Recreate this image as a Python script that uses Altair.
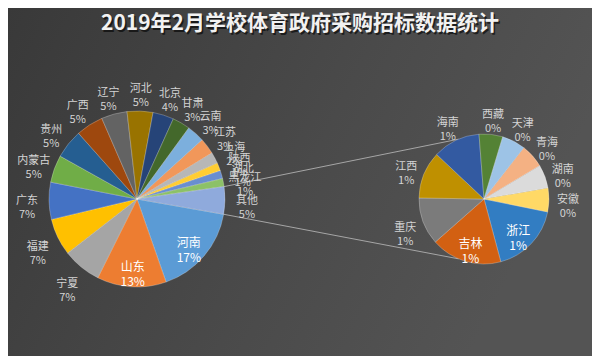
import math
import altair as alt
import pandas as pd

# ---------------- data ----------------
TITLE = "2019年2月学校体育政府采购招标数据统计"

main_names = ["河南", "山东", "宁夏", "福建", "广东", "内蒙古", "贵州", "广西", "辽宁",
              "河北", "北京", "甘肃", "云南", "江苏", "上海", "陕西", "湖北", "黑龙江"]
main_counts = [57, 43, 24, 23, 23, 17, 18, 17, 16, 16, 13, 11, 11, 10, 7, 5, 5, 5]
other_name = "其他"

sec_names = ["浙江", "吉林", "重庆", "江西", "海南", "西藏", "天津", "青海", "湖南", "安徽"]
sec_counts = [3, 3, 2, 2, 2, 1, 1, 1, 1, 1]

# ---------------- styles ----------------
main_colors = ["#5B9BD5", "#ED7D31", "#A5A5A5", "#FFC000", "#4472C4", "#70AD47",
               "#255E91", "#9E480E", "#636363", "#997300", "#264478", "#43682B",
               "#7CAFDD", "#F1975A", "#B7B7B7", "#FFCD33", "#698ED0", "#8CC168",
               "#8FAADC"]
sec_colors = ["#327DC2", "#D26012", "#7B7B7B", "#BF9000", "#335AA1", "#548235",
              "#9DC3E6", "#F4B183", "#DBDBDB", "#FFD966"]
inside_main = ["河南", "山东"]
inside_sec = ["浙江", "吉林"]

FONT = "Noto Sans CJK SC"
W, H = 584, 348
MAIN_CX, MAIN_CY, MAIN_R = 129, 191, 88
SEC_CX, SEC_CY, SEC_R = 476, 191, 65
MAIN_START = 100.0   # degrees, clockwise from 12 o'clock
SEC_START = 101.5

total = sum(main_counts) + sum(sec_counts)


def make_df(names, counts):
    df = pd.DataFrame({"name": names, "v": counts, "idx": list(range(len(names)))})
    df["label"] = [f"{n}\n{round(100 * c / total)}%" for n, c in zip(names, counts)]
    return df


main_df = make_df(main_names + [other_name], main_counts + [sum(sec_counts)])
sec_df = make_df(sec_names, sec_counts)
main_df["lab_in"] = [l if n in inside_main else "" for n, l in zip(main_df.name, main_df.label)]
main_df["lab_out"] = [l if n not in inside_main else "" for n, l in zip(main_df.name, main_df.label)]
sec_df["lab_in"] = [l if n in inside_sec else "" for n, l in zip(sec_df.name, sec_df.label)]
sec_df["lab_out"] = [l if n not in inside_sec else "" for n, l in zip(sec_df.name, sec_df.label)]


def pie(df, cx, cy, r, start_deg, colors, r_out, r_in):
    s = math.radians(start_deg)
    theta = alt.Theta("v:Q", stack=True, scale=alt.Scale(range=[s, s + 2 * math.pi]))
    base = alt.Chart(df).encode(theta=theta, order=alt.Order("idx:Q"),
                                x=alt.value(cx), y=alt.value(cy))
    arc = base.mark_arc(outerRadius=r, stroke="#ffffff", strokeOpacity=0.35,
                        strokeWidth=0.7).encode(
        color=alt.Color("name:N", scale=alt.Scale(domain=list(df.name), range=colors),
                        legend=None))
    txt_out = base.mark_text(radius=r_out, lineBreak="\n", font=FONT, fontSize=11,
                             lineHeight=14, color="#d4d4d4", align="center",
                             baseline="middle").encode(detail="name:N", text="lab_out:N")
    txt_in = base.mark_text(radius=r_in, lineBreak="\n", font=FONT, fontSize=12,
                            lineHeight=15, color="#ffffff", align="center",
                            baseline="middle").encode(detail="name:N", text="lab_in:N")
    return alt.layer(arc, txt_out, txt_in)


main_pie = pie(main_df, MAIN_CX, MAIN_CY, MAIN_R, MAIN_START, main_colors, 110, 68)
sec_pie = pie(sec_df, SEC_CX, SEC_CY, SEC_R, SEC_START, sec_colors, 84, 47)

# connector lines from the "其他" slice edges to the secondary pie
other_frac = sum(sec_counts) / sum(main_df.v)
a_end = math.radians(MAIN_START)
a_beg = a_end - other_frac * 2 * math.pi
s_top = math.radians(337)
s_bot = math.radians(203)
lines_df = pd.DataFrame({
    "x": [MAIN_CX + MAIN_R * math.sin(a_beg), MAIN_CX + MAIN_R * math.sin(a_end)],
    "y": [MAIN_CY - MAIN_R * math.cos(a_beg), MAIN_CY - MAIN_R * math.cos(a_end)],
    "x2": [SEC_CX + SEC_R * math.sin(s_top), SEC_CX + SEC_R * math.sin(s_bot)],
    "y2": [SEC_CY - SEC_R * math.cos(s_top), SEC_CY - SEC_R * math.cos(s_bot)],
})
lines = alt.Chart(lines_df).mark_rule(color="#a6a6a6", strokeWidth=1).encode(
    x=alt.X("x:Q", scale=None), y=alt.Y("y:Q", scale=None),
    x2="x2:Q", y2="y2:Q")

bg = alt.Chart(pd.DataFrame({"a": [0]})).mark_rect(
    color=alt.Gradient(gradient="linear", x1=0, y1=0, x2=1, y2=0.3,
                       stops=[alt.GradientStop(color="#393939", offset=0),
                              alt.GradientStop(color="#4a4a4a", offset=0.6),
                              alt.GradientStop(color="#545454", offset=1)])
).encode(x=alt.value(0), x2=alt.value(W), y=alt.value(0), y2=alt.value(H))

title_df = pd.DataFrame({"t": [TITLE]})
title_shadow = alt.Chart(title_df).mark_text(font=FONT, fontSize=21, fontWeight="bold",
                                             color="#000000", opacity=0.6).encode(
    text="t:N", x=alt.value(W / 2 + 1.5), y=alt.value(17.5))
title = alt.Chart(title_df).mark_text(font=FONT, fontSize=21, fontWeight="bold",
                                      color="#f2f2f2").encode(
    text="t:N", x=alt.value(W / 2), y=alt.value(16))

chart = alt.layer(bg, lines, main_pie, sec_pie, title_shadow, title).resolve_scale(
    theta="independent", color="independent"
).properties(
    width=W, height=H, padding=0,
    autosize=alt.AutoSizeParams(type="fit", contains="padding"),
    background="#444444"
).configure_view(stroke=None)

chart.save("out.html", embed_options={"renderer": "svg", "actions": False})
